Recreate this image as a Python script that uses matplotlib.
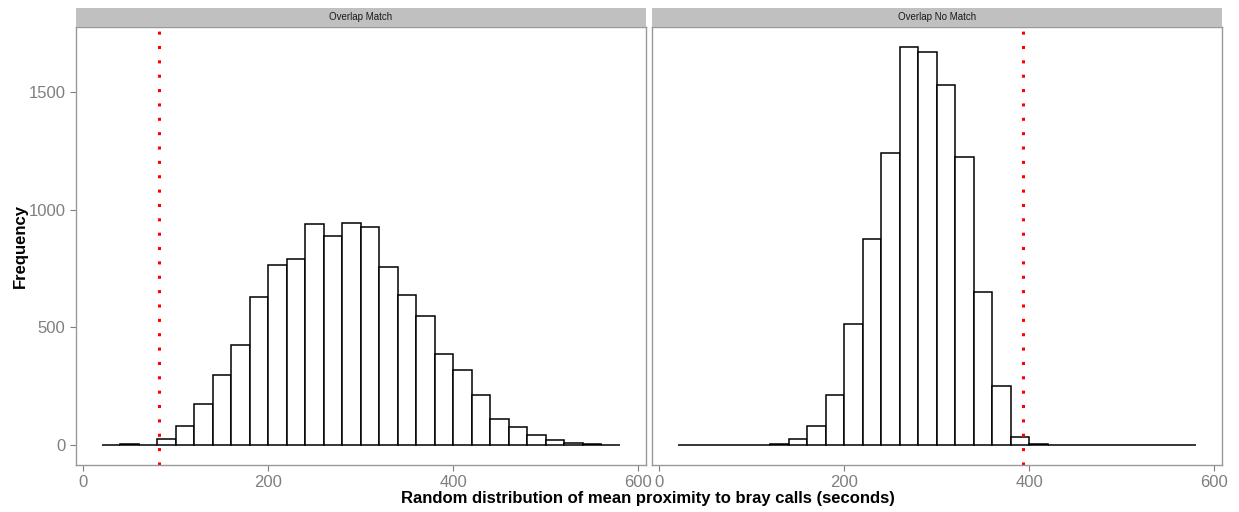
import numpy as np
import matplotlib.pyplot as plt

plt.rcParams['font.family'] = ['Liberation Sans', 'DejaVu Sans']

# bins of 20 seconds, from 20 to 580
bin_edges = np.arange(20, 581, 20)

match_counts = [0, 3, 0, 25, 80, 173, 297, 427, 627, 765, 792, 938, 889, 943,
                925, 757, 637, 550, 387, 318, 213, 111, 75, 44, 22, 7, 3, 0]
nomatch_counts = [0, 0, 0, 0, 0, 4, 25, 79, 213, 513, 875, 1242, 1691, 1668,
                  1531, 1225, 651, 253, 34, 4, 0, 0, 0, 0, 0, 0, 0, 0]
observed = [82, 393]
panel_titles = ['Overlap Match', 'Overlap No Match']
panel_counts = [match_counts, nomatch_counts]

fig = plt.figure(figsize=(12.39, 5.12), dpi=100)
grey = '#7f7f7f'

lefts = [0.0613, 0.5262]
width = 0.4597
bottom, height = 0.0918, 0.8555

for i in range(2):
    ax = fig.add_axes([lefts[i], bottom, width, height])
    ax.bar(bin_edges[:-1], panel_counts[i], width=20, align='edge',
           facecolor='white', edgecolor='black', linewidth=1.1)
    ax.axvline(observed[i], color='red', linestyle=(0, (1, 3.7)), linewidth=2.2)
    ax.set_xlim(-8, 608)
    ax.set_ylim(-84.5, 1775.5)
    ax.set_xticks([0, 200, 400, 600])
    ax.set_yticks([0, 500, 1000, 1500])
    ax.tick_params(colors=grey, labelsize=12, length=4, width=0.8)
    ax.tick_params(axis='both', labelcolor=grey)
    if i == 1:
        ax.set_yticklabels([])
        ax.tick_params(axis='y', length=0)
    else:
        ax.set_ylabel('Frequency', fontsize=12, fontweight='bold', labelpad=0.5)
    for s in ax.spines.values():
        s.set_color('#999999')
        s.set_linewidth(1.0)
    # facet strip
    sax = fig.add_axes([lefts[i], bottom + height, width, 0.0371])
    sax.set_facecolor('#c0c0c0')
    sax.set_xticks([])
    sax.set_yticks([])
    for s in sax.spines.values():
        s.set_visible(False)
    sax.text(0.5, 0.5, panel_titles[i], ha='center', va='center',
             fontsize=7, color='#1a1a1a', transform=sax.transAxes)

fig.text(0.523, 0.012, 'Random distribution of mean proximity to bray calls (seconds)',
         ha='center', va='bottom', fontsize=12, fontweight='bold')

fig.savefig('out.png', dpi=100)
